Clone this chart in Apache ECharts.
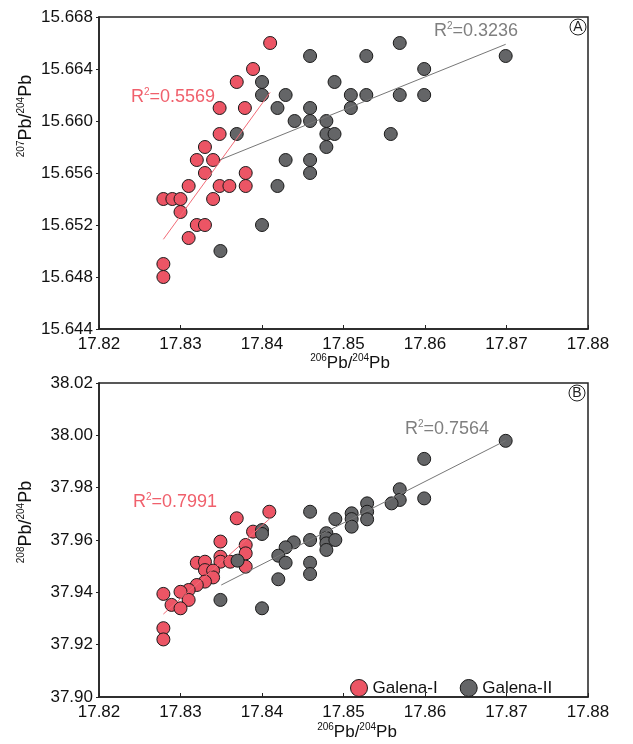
<!DOCTYPE html>
<html>
<head>
<meta charset="utf-8">
<script src="https://cdn.jsdelivr.net/npm/echarts@6/dist/echarts.min.js"></script>
<style>
  html, body { margin: 0; padding: 0; background: #fff; }
  #chart { width: 633px; height: 744px; }
</style>
</head>
<body>
<div id="chart"></div>
<script>
// panel A: 207Pb/204Pb vs 206Pb/204Pb
const pb206_IA = [17.841, 17.8389, 17.8369, 17.8348, 17.8379, 17.8348, 17.833, 17.832, 17.834, 17.833, 17.838, 17.831, 17.8348, 17.836, 17.838, 17.8279, 17.829, 17.830, 17.834, 17.830, 17.832, 17.833, 17.831, 17.8279, 17.8279];
const pb207_IA = [15.666, 15.664, 15.663, 15.661, 15.661, 15.659, 15.658, 15.657, 15.657, 15.656, 15.656, 15.655, 15.655, 15.655, 15.655, 15.654, 15.654, 15.654, 15.654, 15.653, 15.652, 15.652, 15.651, 15.649, 15.648];
const pb206_IIA = [17.840, 17.840, 17.8369, 17.840, 17.8349, 17.8459, 17.8528, 17.8429, 17.8419, 17.8459, 17.844, 17.8459, 17.8479, 17.8489, 17.8509, 17.8528, 17.8509, 17.8479, 17.8489, 17.8479, 17.8429, 17.8459, 17.8459, 17.8419, 17.8558, 17.8569, 17.8599, 17.8569, 17.8599, 17.8699];
const pb207_IIA = [15.663, 15.662, 15.659, 15.652, 15.650, 15.665, 15.665, 15.662, 15.661, 15.661, 15.660, 15.660, 15.660, 15.663, 15.662, 15.662, 15.661, 15.659, 15.659, 15.658, 15.657, 15.657, 15.656, 15.655, 15.659, 15.666, 15.664, 15.662, 15.662, 15.665];

// panel B: 208Pb/204Pb vs 206Pb/204Pb
const pb206_IB = [17.8409, 17.8369, 17.8389, 17.8349, 17.838, 17.838, 17.838, 17.8349, 17.8349, 17.8361, 17.832, 17.833, 17.833, 17.834, 17.834, 17.833, 17.832, 17.831, 17.830, 17.8279, 17.831, 17.8289, 17.830, 17.8279, 17.8279];
const pb208_IB = [37.9708, 37.9683, 37.9632, 37.9594, 37.9581, 37.9549, 37.9498, 37.9536, 37.9517, 37.9517, 37.9513, 37.9517, 37.9485, 37.9483, 37.9457, 37.9441, 37.9428, 37.9409, 37.9402, 37.9394, 37.9371, 37.9352, 37.9339, 37.9263, 37.922];
const pb206_IIB = [17.840, 17.840, 17.837, 17.842, 17.8349, 17.840, 17.8459, 17.849, 17.851, 17.851, 17.851, 17.8529, 17.8529, 17.8529, 17.8479, 17.8479, 17.8479, 17.8479, 17.849, 17.8459, 17.8439, 17.8429, 17.842, 17.8429, 17.8459, 17.8459, 17.8569, 17.8569, 17.8559, 17.8599, 17.8599, 17.8699];
const pb208_IIB = [37.9638, 37.9623, 37.9521, 37.945, 37.9371, 37.9339, 37.9708, 37.968, 37.9702, 37.968, 37.9651, 37.974, 37.9708, 37.9679, 37.9626, 37.9607, 37.9587, 37.9562, 37.960, 37.960, 37.9591, 37.9572, 37.954, 37.9513, 37.9513, 37.947, 37.9794, 37.9753, 37.974, 37.991, 37.9759, 37.9979];

// fitted trend lines as drawn in the figure: [x0, x1] and [y0, y1]
const fitX_IA = [17.8279, 17.841], fitY_IA = [15.6509, 15.6622];
const fitX_IIA = [17.8348, 17.8699], fitY_IIA = [15.6570, 15.6659];
const fitX_IB = [17.8279, 17.841], fitY_IB = [37.9317, 37.9683];
const fitX_IIB = [17.835, 17.8699], fitY_IIB = [37.9428, 37.998];

const xTicks = [17.82, 17.88, 0.01];
const yTicksA = [15.644, 15.668, 0.004];
const yTicksB = [37.90, 38.02, 0.02];
const r2Text = ['0.5569', '0.3236', '0.7991', '0.7564'];

const RED = '#ec5565';
const GRAY = '#646567';
const FONT = 'Liberation Sans, Arial, sans-serif';

function pairs(xs, ys) {
  return xs.map((x, i) => [x, ys[i]]);
}

const labelStyle = { color: '#111', fontSize: 17, fontFamily: FONT };

function xAxis(idx) {
  return {
    type: 'value', gridIndex: idx,
    min: xTicks[0], max: xTicks[1], interval: xTicks[2],
    axisLine: { show: true, lineStyle: { color: '#222', width: 1.5 } },
    axisTick: { show: true, inside: true, length: 4, lineStyle: { color: '#222' } },
    axisLabel: Object.assign({ margin: 7, formatter: v => v.toFixed(2) }, labelStyle),
    splitLine: { show: false }
  };
}

function yAxis(idx, t, dec) {
  return {
    type: 'value', gridIndex: idx,
    min: t[0], max: t[1], interval: t[2],
    axisLine: { show: true, lineStyle: { color: '#222', width: 1.5 } },
    axisTick: { show: true, inside: false, length: 3, lineStyle: { color: '#222' } },
    axisLabel: Object.assign({ margin: 6, formatter: v => v.toFixed(dec) }, labelStyle),
    splitLine: { show: false }
  };
}

function scatter(name, color, idx, data) {
  return {
    name: name, type: 'scatter', xAxisIndex: idx, yAxisIndex: idx,
    data: data, symbolSize: 13,
    itemStyle: { color: color, borderColor: '#1a1a1a', borderWidth: 1, opacity: 1 }
  };
}

function trend(color, idx, xs, ys) {
  return {
    name: 'fit', type: 'line', xAxisIndex: idx, yAxisIndex: idx,
    data: pairs(xs, ys), symbol: 'none', silent: true, z: 3,
    lineStyle: { color: color, width: 1 }
  };
}

const sup = { fontSize: 10, lineHeight: 10, verticalAlign: 'top', fontFamily: FONT };

function nameText(x, y, iso, rot, size, color) {
  return {
    type: 'text', x: x, y: y, rotation: rot,
    style: {
      text: '{s|' + iso + '}{t|Pb/}{s|204}{t|Pb}',
      align: 'center', verticalAlign: 'middle', fill: color,
      rich: { s: Object.assign({ fill: color }, sup), t: { fontSize: size, lineHeight: 20, fill: color, fontFamily: FONT } }
    }
  };
}

function r2Label(x, y, val, color) {
  return {
    type: 'text', x: x, y: y,
    style: {
      text: '{t|R}{s|2}{t|=' + val + '}',
      align: 'left', verticalAlign: 'middle', fill: color,
      rich: { s: Object.assign({ fill: color }, sup), t: { fontSize: 18, lineHeight: 20, fill: color, fontFamily: FONT } }
    }
  };
}

function panelTag(x, y, letter) {
  return [
    { type: 'circle', shape: { cx: x, cy: y, r: 8 }, style: { fill: '#fff', stroke: '#222', lineWidth: 1 } },
    { type: 'text', x: x, y: y + 0.5, style: { text: letter, align: 'center', verticalAlign: 'middle', fontSize: 14, fontFamily: FONT, fill: '#222' } }
  ];
}

const chart = echarts.init(document.getElementById('chart'));

const option = {
  animation: false,
  backgroundColor: '#fff',
  grid: [
    { left: 99, top: 17, width: 489, height: 312, show: true, borderColor: '#222', borderWidth: 1.5, backgroundColor: 'transparent' },
    { left: 99, top: 383, width: 489, height: 314, show: true, borderColor: '#222', borderWidth: 1.5, backgroundColor: 'transparent' }
  ],
  xAxis: [xAxis(0), xAxis(1)],
  yAxis: [yAxis(0, yTicksA, 3), yAxis(1, yTicksB, 2)],
  legend: {
    data: ['Galena-I', 'Galena-II'],
    left: 345, top: 674,
    icon: 'circle', itemWidth: 17, itemHeight: 17, itemGap: 22,
    itemStyle: { borderColor: '#1a1a1a', borderWidth: 1 },
    textStyle: { color: '#111', fontSize: 17, fontFamily: FONT }
  },
  series: [
    scatter('Galena-I', RED, 0, pairs(pb206_IA, pb207_IA)),
    scatter('Galena-II', GRAY, 0, pairs(pb206_IIA, pb207_IIA)),
    scatter('Galena-I', RED, 1, pairs(pb206_IB, pb208_IB)),
    scatter('Galena-II', GRAY, 1, pairs(pb206_IIB, pb208_IIB)),
    trend('#f26b77', 0, fitX_IA, fitY_IA),
    trend('#777', 0, fitX_IIA, fitY_IIA),
    trend('#f26b77', 1, fitX_IB, fitY_IB),
    trend('#777', 1, fitX_IIB, fitY_IIB)
  ],
  graphic: [
    nameText(26, 116, '207', Math.PI / 2, 18, '#111'),
    nameText(26, 522, '208', Math.PI / 2, 18, '#111'),
    nameText(350, 363, '206', 0, 17, '#111'),
    nameText(357, 732, '206', 0, 17, '#111'),
    r2Label(131, 97, r2Text[0], '#f0606c'),
    r2Label(434, 31, r2Text[1], '#7f7f7f'),
    r2Label(133, 502, r2Text[2], '#f0606c'),
    r2Label(405, 429, r2Text[3], '#7f7f7f')
  ].concat(panelTag(578, 27, 'A'), panelTag(577, 393, 'B'))
};

chart.setOption(option);
</script>
</body>
</html>
